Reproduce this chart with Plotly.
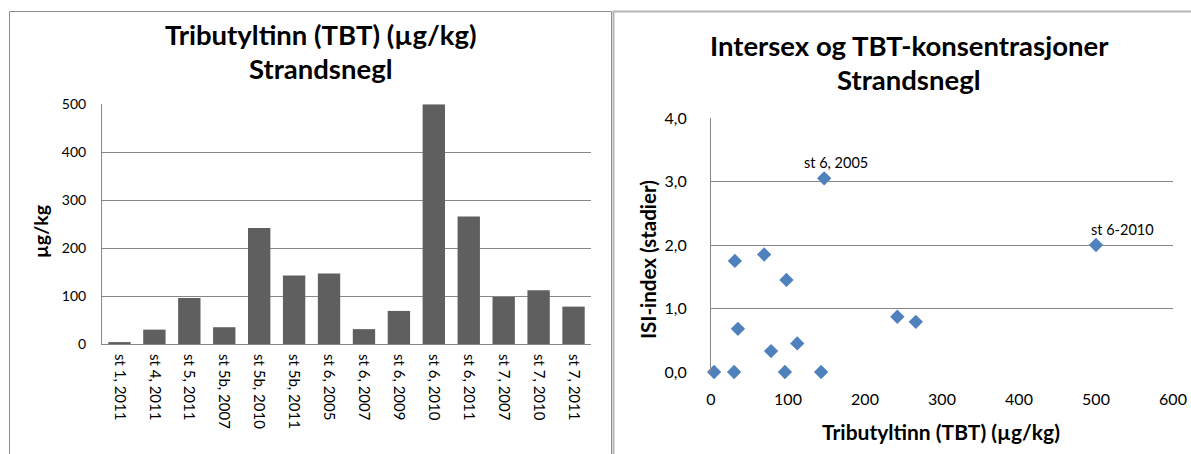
import plotly.graph_objects as go

# ---- data ----
categories = ["st 1, 2011", "st 4, 2011", "st 5, 2011", "st 5b, 2007", "st 5b, 2010",
              "st 5b, 2011", "st 6, 2005", "st 6, 2007", "st 6, 2009", "st 6, 2010",
              "st 6, 2011", "st 7, 2007", "st 7, 2010", "st 7, 2011"]
tbt = [4, 30, 96, 35, 242, 143, 147, 31, 69, 500, 266, 98, 112, 78]
isi = [0.0, 0.0, 0.0, 0.68, 0.87, 0.0, 3.05, 1.75, 1.85, 2.0, 0.79, 1.45, 0.45, 0.33]
labelled = {"st 6, 2005": "st 6, 2005", "st 6, 2010": "st 6-2010"}

W, H = 1191, 454
def px(x):
    return x / W
def py(y):
    return 1 - y / H

FONT = "Lato, 'Open Sans', sans-serif"
GRID = "#878787"

fig = go.Figure()
fig.add_trace(go.Bar(x=categories, y=tbt, marker=dict(color="#5f5f5f", line=dict(width=0)),
                     xaxis="x", yaxis="y", showlegend=False))
fig.add_trace(go.Scatter(x=tbt, y=isi, mode="markers",
                         marker=dict(symbol="diamond", size=11, color="#4f81bd"),
                         xaxis="x2", yaxis="y2", cliponaxis=False, showlegend=False))

def ann(text, x, y, size, angle=0):
    return dict(text=text, x=px(x), y=py(y), xref="paper", yref="paper", textangle=angle,
                xanchor="center", yanchor="middle",
                showarrow=False, font=dict(size=size, color="black", family=FONT))

annotations = [
    ann("<b>Tributyltinn (TBT) (µg/kg)</b>", 321, 34, 27.5),
    ann("<b>Strandsnegl</b>", 321, 68, 27.5),
    ann("<b>Intersex og TBT-konsentrasjoner</b>", 909, 45, 27.5),
    ann("<b>Strandsnegl</b>", 909, 79, 27.5),
    ann("<b>µg/kg</b>", 40, 232, 19.5, -90),
    ann("<b>ISI-index (stadier)</b>", 648, 260, 20.5, -90),
    ann("<b>Tributyltinn (TBT) (µg/kg)</b>", 941, 431, 21),
]
shifts = {"st 6, 2005": (12, 16), "st 6, 2010": (26, 16)}
for i, c in enumerate(categories):
    if c in labelled:
        xs, ys = shifts[c]
        annotations.append(dict(text=labelled[c], x=tbt[i], y=isi[i], xref="x2", yref="y2",
                                xshift=xs, yshift=ys, showarrow=False,
                                font=dict(size=14.5, color="black", family=FONT)))

shapes = [
    dict(type="rect", xref="paper", yref="paper", x0=px(9.5), x1=px(611.5), y0=py(470), y1=py(11.5),
         line=dict(color="#8c8c8c", width=1)),
    dict(type="rect", xref="paper", yref="paper", x0=px(613.5), x1=px(1210), y0=py(470), y1=py(11.5),
         line=dict(color="#b5b5b5", width=2)),
]

fig.update_layout(
    width=W, height=H,
    margin=dict(l=0, r=0, t=0, b=0),
    paper_bgcolor="white", plot_bgcolor="white",
    font=dict(family=FONT, color="black"),
    separators=", ",
    bargap=0.36,
    annotations=annotations,
    shapes=shapes,
    xaxis=dict(domain=[px(102), px(591)], type="category", tickangle=90,
               showline=True, linecolor=GRID, linewidth=1, showgrid=False,
               ticks="", ticklabelstandoff=6, tickfont=dict(size=15), automargin=False),
    yaxis=dict(domain=[py(344), py(104.3)], range=[0, 500], tickvals=[0, 100, 200, 300, 400, 500],
               showline=True, linecolor=GRID, linewidth=1, showgrid=True, gridcolor=GRID, gridwidth=1,
               zeroline=False, ticks="", ticklabelstandoff=12, tickfont=dict(size=14), automargin=False),
    xaxis2=dict(domain=[px(711), px(1173)], range=[0, 600], tickvals=[0, 100, 200, 300, 400, 500, 600],
                anchor="y2", showline=False, showgrid=False, zeroline=False,
                ticks="", ticklabelstandoff=16, tickfont=dict(size=16), automargin=False),
    yaxis2=dict(domain=[py(372), py(118)], range=[0, 4], tickvals=[0, 1, 2, 3, 4], tickformat=".1f",
                anchor="x2", showline=True, linecolor=GRID, linewidth=1, showgrid=True, gridcolor=GRID,
                gridwidth=1, zeroline=False, ticks="", ticklabelstandoff=20, tickfont=dict(size=16),
                automargin=False),
)

fig.write_html("out.html", config={"displayModeBar": False},
               post_script="document.body.style.margin='0';document.body.style.overflow='hidden';")
